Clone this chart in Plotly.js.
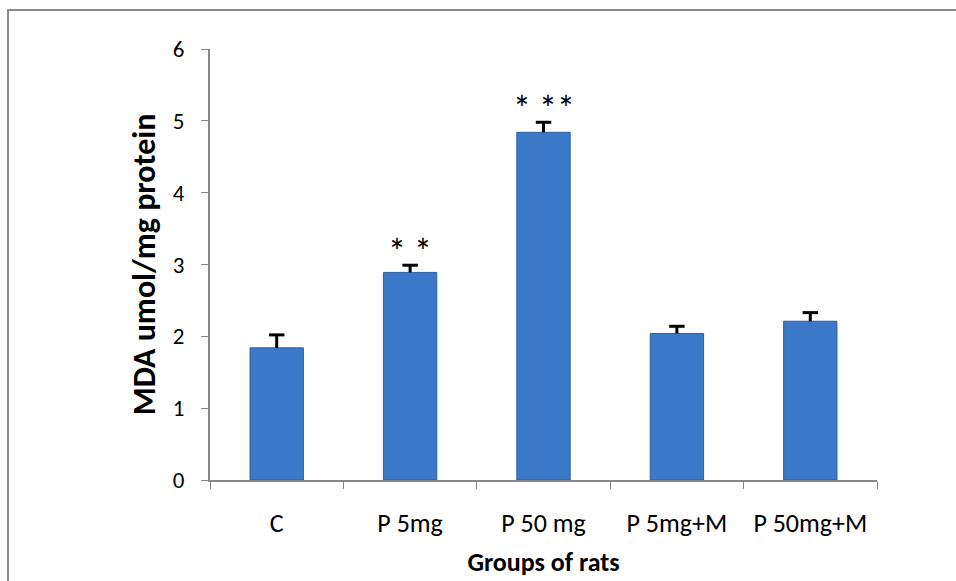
<!DOCTYPE html>
<html>
<head>
<meta charset="utf-8">
<script src="https://cdn.plot.ly/plotly-3.0.1.min.js"></script>
<style>
  html, body { margin: 0; padding: 0; background: #fff; overflow: hidden; }
  #frame { position: absolute; left: 7px; top: 9px; width: 1000px; height: 1000px;
           border: 2px solid #8c8c8c; box-sizing: border-box; pointer-events: none; }
  #chart { position: absolute; left: 0; top: 0; width: 956px; height: 581px; }
</style>
</head>
<body>
<div id="chart"></div>
<div id="frame"></div>
<script>
// MDA level per group of rats, with standard error
const groups = ['C', 'P 5mg', 'P 50 mg', 'P 5mg+M', 'P 50mg+M'];
const mda = [1.84, 2.89, 4.84, 2.04, 2.21];
const sem = [0.18, 0.10, 0.14, 0.10, 0.12];
const marks = ['', '* *', '* **', '', ''];

const FONT = 'Carlito, Lato, "Open Sans", sans-serif';
const tops = mda.map((v, i) => v + sem[i]);

// bars with the upper error stem only
const bars = {
  type: 'bar',
  x: groups,
  y: mda,
  width: 0.4,
  marker: { color: '#3b79c8', line: { color: '#2d5f9f', width: 1 } },
  error_y: { type: 'data', array: sem, symmetric: false, arrayminus: sem.map(() => 0),
             color: '#000', thickness: 3, width: 0 },
  hoverinfo: 'x+y'
};

// cap on top of each error stem
const caps = {
  type: 'scatter', mode: 'markers',
  x: groups, y: tops,
  marker: { symbol: 'line-ew', size: 11, line: { color: '#000', width: 3 } },
  hoverinfo: 'skip'
};

const annotations = [];
groups.forEach((g, i) => {
  if (marks[i]) {
    annotations.push({
      x: g, y: tops[i], xref: 'x', yref: 'y',
      text: marks[i], showarrow: false, yanchor: 'bottom', yshift: -11,
      font: { family: FONT, size: 36, color: '#000' }
    });
  }
});

const layout = {
  width: 956, height: 581,
  margin: { l: 210, r: 79, t: 49, b: 101 },
  paper_bgcolor: '#fff', plot_bgcolor: '#fff',
  showlegend: false,
  bargap: 0.6,
  xaxis: {
    type: 'category',
    showline: true, linecolor: '#878787', linewidth: 2,
    ticks: 'outside', tickson: 'boundaries', ticklen: 7, tickcolor: '#878787', tickwidth: 1,
    tickfont: { family: FONT, size: 26, color: '#000' },
    ticklabelstandoff: 19,
    showgrid: false, zeroline: false,
    title: { text: '<b>Groups of rats</b>', font: { family: FONT, size: 26, color: '#000' }, standoff: 15 }
  },
  yaxis: {
    range: [0, 6], dtick: 1,
    showline: true, linecolor: '#878787', linewidth: 2,
    ticks: 'outside', ticklen: 7, tickcolor: '#878787', tickwidth: 1,
    tickfont: { family: FONT, size: 23, color: '#000' },
    ticklabelstandoff: 12,
    showgrid: false, zeroline: false,
    title: { text: '<b>MDA umol/mg protein</b>', font: { family: FONT, size: 32, color: '#000' }, standoff: 8 }
  },
  annotations: annotations
};

Plotly.newPlot('chart', [bars, caps], layout, { displayModeBar: false, staticPlot: true });
</script>
</body>
</html>
